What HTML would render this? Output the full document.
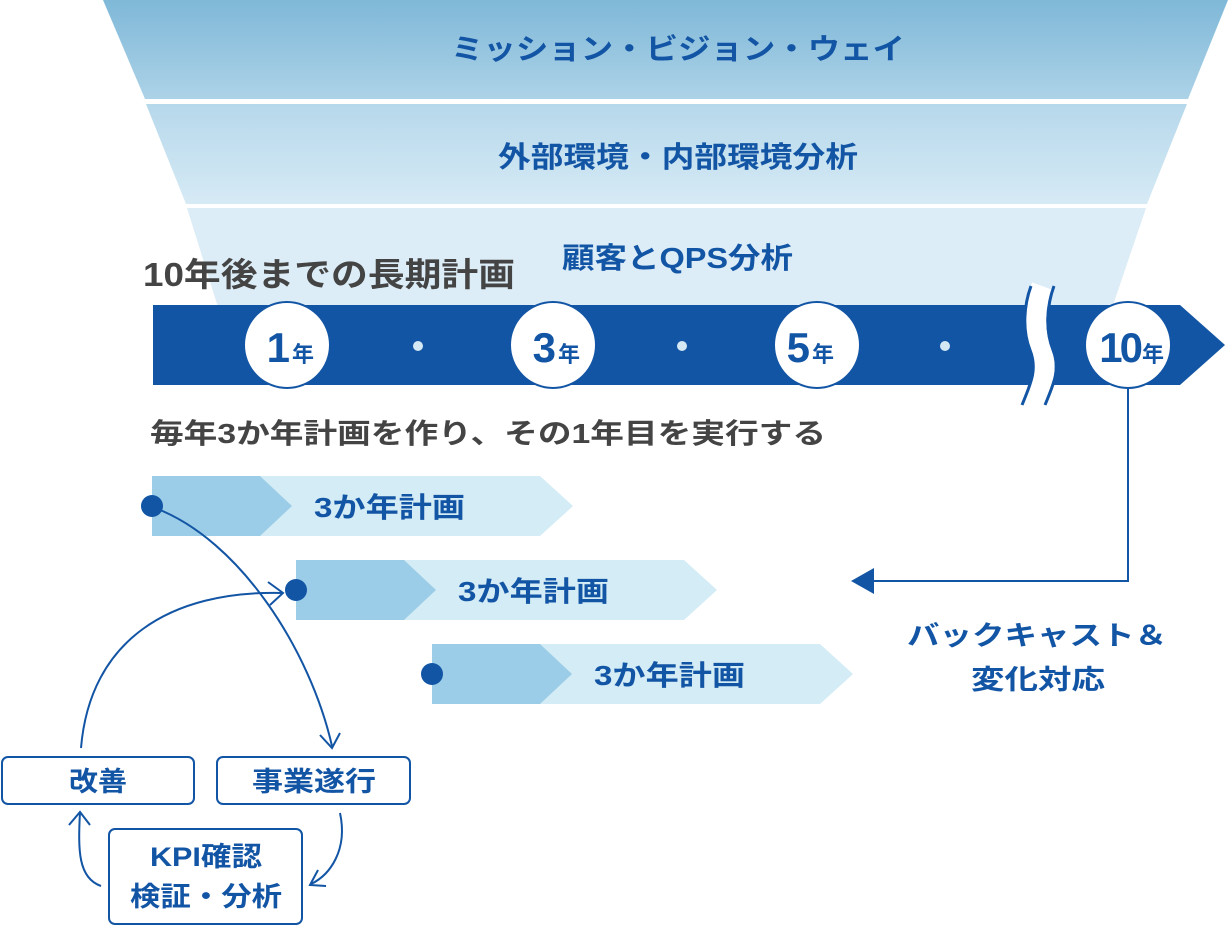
<!DOCTYPE html>
<html><head><meta charset="utf-8"><style>
html,body{margin:0;padding:0;background:#fff;}
svg{display:block;}
text{font-family:"Liberation Sans","Noto Sans CJK JP",sans-serif;font-weight:bold;}
</style></head><body>
<svg width="1228" height="926" viewBox="0 0 1228 926" xmlns="http://www.w3.org/2000/svg">
<defs>
<linearGradient id="g1" x1="0" y1="0" x2="0" y2="1"><stop offset="0" stop-color="#7fb8d8"/><stop offset="1" stop-color="#acd2e7"/></linearGradient>
<linearGradient id="g2" x1="0" y1="0" x2="0" y2="1"><stop offset="0" stop-color="#b6d8eb"/><stop offset="1" stop-color="#d6eaf5"/></linearGradient>
</defs>
<polygon points="103,0 1228,0 1188,99 145,99" fill="url(#g1)"/>
<polygon points="146,104 1187,104 1147,204 186,204" fill="url(#g2)"/>
<polygon points="187,208 1146,208 1108,320 222,320" fill="#dcedf7"/>
<text x="451" y="59" font-size="29" fill="#1355a5" textLength="454" lengthAdjust="spacingAndGlyphs">ミッション・ビジョン・ウェイ</text>
<text x="498" y="167" font-size="29" fill="#1355a5" textLength="360" lengthAdjust="spacingAndGlyphs">外部環境・内部環境分析</text>
<text x="562" y="268" font-size="29" fill="#1355a5" textLength="231" lengthAdjust="spacingAndGlyphs">顧客とQPS分析</text>
<text x="143" y="286" font-size="33" fill="#444" textLength="372" lengthAdjust="spacingAndGlyphs">10年後までの長期計画</text>
<polygon points="153,305 1180,305 1225,345 1180,385 153,385" fill="#1355a5"/>
<g fill="#d4e9f4"><circle cx="418" cy="346" r="5"/><circle cx="682" cy="346" r="5"/><circle cx="945" cy="346" r="5"/></g>
<path d="M1042,286 C1035,305 1033,330 1041,350 C1049,370 1041,385 1033,405" stroke="#fff" stroke-width="21" fill="none"/>
<path d="M1031,286 C1024,305 1022,330 1030,350 C1038,370 1030,385 1022,405" stroke="#1355a5" stroke-width="3" fill="none"/>
<path d="M1054,286 C1047,305 1045,330 1053,350 C1061,370 1053,385 1045,405" stroke="#1355a5" stroke-width="3" fill="none"/>
<g fill="#fff" stroke="#1355a5" stroke-width="2">
<circle cx="287" cy="345" r="43"/><circle cx="553" cy="345" r="43"/><circle cx="817" cy="345" r="43"/><circle cx="1128" cy="345" r="43"/>
</g>
<g fill="#1355a5">
<text x="290" y="362" font-size="42" text-anchor="end">1</text><text x="292" y="362" font-size="22">年</text>
<text x="556" y="362" font-size="42" text-anchor="end">3</text><text x="558" y="362" font-size="22">年</text>
<text x="810" y="362" font-size="42" text-anchor="end">5</text><text x="812" y="362" font-size="22">年</text>
<text x="1140" y="362" font-size="42" text-anchor="end" letter-spacing="-3">10</text><text x="1142" y="362" font-size="22">年</text>
</g>
<polyline points="1128,388 1128,581 870,581" fill="none" stroke="#1355a5" stroke-width="2"/>
<polygon points="851,581 874,568 874,594" fill="#1355a5"/>
<text x="907" y="645" font-size="27" fill="#1355a5" textLength="260" lengthAdjust="spacingAndGlyphs">バックキャスト＆</text>
<text x="971" y="689" font-size="27" fill="#1355a5" textLength="134" lengthAdjust="spacingAndGlyphs">変化対応</text>
<text x="150" y="443" font-size="28" fill="#444" textLength="676" lengthAdjust="spacingAndGlyphs">毎年3か年計画を作り、その1年目を実行する</text>
<g id="r1">
<polygon points="152,476 540,476 573,506 540,536 152,536" fill="#d4ecf5"/>
<polygon points="152,476 260,476 292,506 260,536 152,536" fill="#9bcde8"/>
<circle cx="152" cy="506" r="11" fill="#1355a5"/>
<text x="314" y="517" font-size="28" fill="#1355a5" textLength="151" lengthAdjust="spacingAndGlyphs">3か年計画</text>
</g>
<use href="#r1" transform="translate(144,84)"/>
<use href="#r1" transform="translate(280,168)"/>
<g fill="none" stroke="#1355a5" stroke-width="2">
<path d="M155,508 C240,540 310,650 332,746"/>
<path d="M320,735 L332,748 L340,733"/>
<path d="M81,748 C90,640 170,590 283,593"/>
<path d="M268,582 L283,593 L270,605"/>
<path d="M340,813 C348,850 330,875 311,884"/>
<path d="M326,886 L310,885 L318,870"/>
<path d="M101,886 C78,878 78,850 80,812"/>
<path d="M69,825 L80,812 L90,825"/>
<rect x="2" y="757" width="192" height="47" rx="6" stroke-width="2"/>
<rect x="217" y="757" width="193" height="47" rx="6" stroke-width="2"/>
<rect x="109" y="829" width="193" height="95" rx="6" stroke-width="2"/>
</g>
<g fill="#1355a5" font-size="27">
<text x="69" y="791" textLength="58" lengthAdjust="spacingAndGlyphs">改善</text>
<text x="252" y="791" textLength="124" lengthAdjust="spacingAndGlyphs">事業遂行</text>
<text x="150" y="866" textLength="112" lengthAdjust="spacingAndGlyphs">KPI確認</text>
<text x="130" y="906" textLength="152" lengthAdjust="spacingAndGlyphs">検証・分析</text>
</g>
</svg>
</body></html>
